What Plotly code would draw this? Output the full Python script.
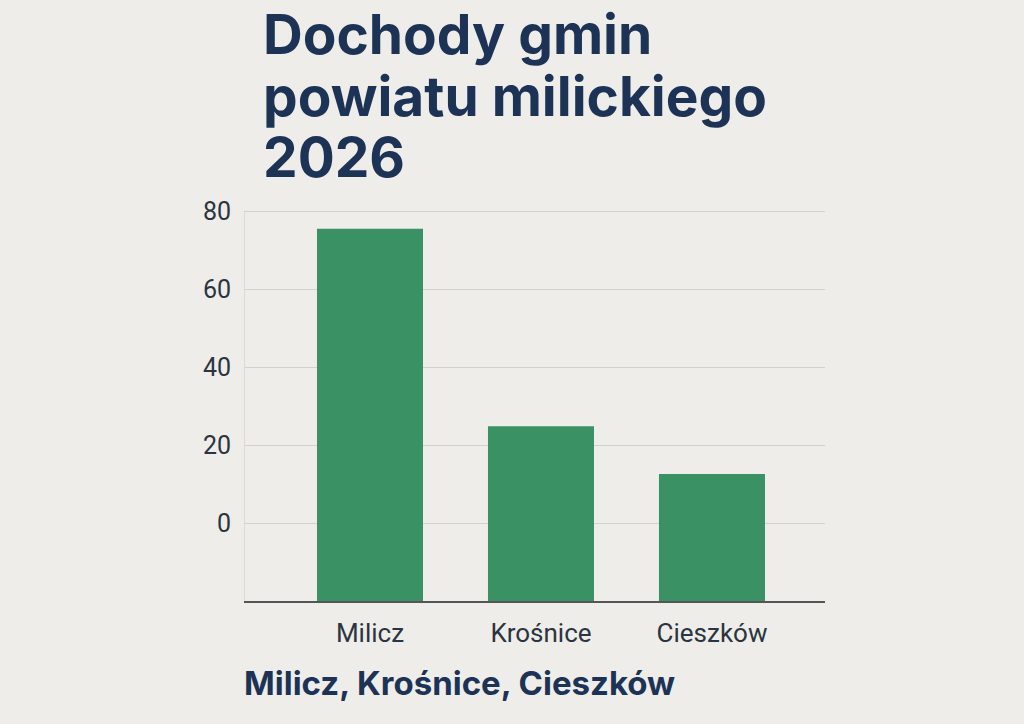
import plotly.graph_objects as go

categories = ["Milicz", "Krośnice", "Cieszków"]
values = [75.6, 24.9, 12.6]
axis_floor = -20
axis_ceiling = 80.4
tick_vals = [0, 20, 40, 60, 80]
tick_text = ["0", "20", "40", "60", "80"]
title_lines = ["Dochody gmin", "powiatu milickiego", "2026"]
subtitle = "Milicz, Krośnice, Cieszków"

BG = "#eeede9"
NAVY = "#1c3356"
GREEN = "#3a9163"

L, R, T, B = 245, 825, 210, 601
W, H = 1024, 724

xpos = list(range(len(categories)))
fig = go.Figure()
fig.add_trace(go.Bar(
    x=xpos,
    y=[v - axis_floor for v in values],
    base=[axis_floor] * len(values),
    width=0.62,
    marker=dict(color=GREEN, line=dict(width=0)),
    hoverinfo="skip",
))

def py(p):
    return (B - p) / (B - T)

annotations = []
title_size = 55
baselines = [55, 117, 178]
for line, bl in zip(title_lines, baselines):
    annotations.append(dict(
        text=line, xref="paper", yref="paper",
        x=(261 - L) / (R - L), y=py(bl + 0.255 * title_size),
        xanchor="left", yanchor="bottom", showarrow=False,
        font=dict(family="Inter", size=title_size, color=NAVY, weight=700),
    ))
sub_size = 33
annotations.append(dict(
    text=subtitle, xref="paper", yref="paper",
    x=(242 - L) / (R - L), y=py(697 + 0.255 * sub_size),
    xanchor="left", yanchor="bottom", showarrow=False,
    font=dict(family="Inter", size=sub_size, color=NAVY, weight=700),
))

fig.update_layout(
    width=W, height=H,
    margin=dict(l=L, r=W - R, t=T, b=H - B, pad=0),
    paper_bgcolor=BG, plot_bgcolor=BG,
    showlegend=False,
    font=dict(family="Roboto", color="#2b3440"),
    xaxis=dict(
        range=[-0.731, 2.661],
        tickvals=xpos, ticktext=categories,
        tickfont=dict(size=26, color="#2b3440", family="Roboto"),
        showgrid=False, zeroline=False,
        showline=True, linecolor="#555555", linewidth=1.5,
        ticks="outside", ticklen=8, tickcolor="rgba(0,0,0,0)",
        automargin=False,
    ),
    yaxis=dict(
        range=[axis_floor, axis_ceiling],
        tickvals=tick_vals, ticktext=tick_text,
        tickfont=dict(size=25, color="#2b3440", family="Roboto"),
        showgrid=True, gridcolor="#d2d1cc", gridwidth=1.3,
        zeroline=False,
        showline=True, linecolor="#dcdbd6", linewidth=1,
        ticks="outside", ticklen=8, tickcolor="rgba(0,0,0,0)",
        automargin=False,
    ),
    annotations=annotations,
)

fig.write_html(
    "out.html",
    config={"displayModeBar": False},
    post_script="document.body.style.margin='0';document.body.style.background='" + BG + "';",
)
